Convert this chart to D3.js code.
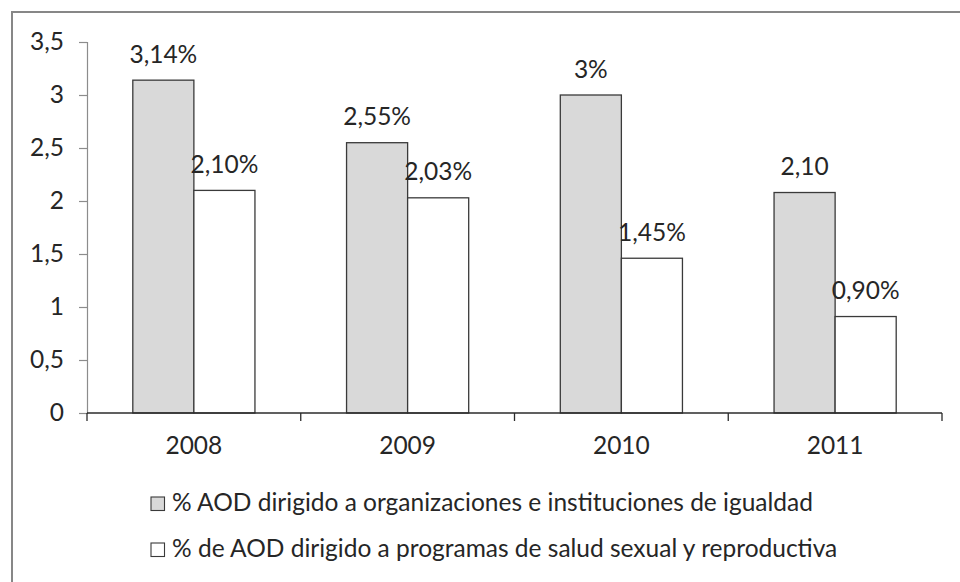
<!DOCTYPE html>
<html>
<head>
<meta charset="utf-8">
<script src="https://cdn.jsdelivr.net/npm/d3@7"></script>
<style>
  html, body { margin: 0; padding: 0; background: #fff; }
  svg { display: block; font-family: Lato, "Open Sans", sans-serif; }
</style>
</head>
<body>
<div id="chart"></div>
<script>
"use strict";
// données
const years = ["2008", "2009", "2010", "2011"];
const seriesNames = [
  "% AOD dirigido a organizaciones e instituciones de igualdad",
  "% de AOD dirigido a programas de salud sexual y reproductiva"
];
const igualdad = [3.14, 2.55, 3.0, 2.08];
const salud = [2.10, 2.03, 1.46, 0.91];
const labelsIgualdad = ["3,14%", "2,55%", "3%", "2,10"];
const labelsSalud = ["2,10%", "2,03%", "1,45%", "0,90%"];
const yTicks = [0, 0.5, 1, 1.5, 2, 2.5, 3, 3.5];
const fills = ["#d9d9d9", "#ffffff"];

const width = 960, height = 582;
const margin = {top: 42, right: 18, bottom: 169, left: 87};
const fontSize = 24.5;

const svg = d3.select("#chart").append("svg")
  .attr("width", width).attr("height", height);

// cadre du graphique (coupé à droite et en bas)
svg.append("rect")
  .attr("x", 12).attr("y", 12)
  .attr("width", width).attr("height", height)
  .attr("fill", "none").attr("stroke", "#878787").attr("stroke-width", 2);

const y = d3.scaleLinear().domain([0, 3.5]).range([height - margin.bottom, margin.top]);
const x0 = d3.scaleBand().domain(years).range([margin.left, width - margin.right]);
const bw = x0.bandwidth();
const gap = bw * 0.75 / 3.5; // gap width 150%
const x1 = d3.scaleBand().domain([0, 1]).range([gap, bw - gap]);

// axe Y
const gy = svg.append("g")
  .attr("transform", `translate(${margin.left},0)`)
  .call(d3.axisLeft(y).tickValues(yTicks).tickSize(8).tickPadding(15)
    .tickFormat(d => String(d).replace(".", ",")));
gy.select(".domain").attr("stroke", "#8c8c8c").attr("stroke-width", 1.2);
gy.selectAll(".tick line").attr("stroke", "#8c8c8c").attr("stroke-width", 1.2);
gy.selectAll(".tick text")
  .attr("font-size", fontSize).attr("font-family", "Lato").attr("fill", "#262626");

// barres
const rows = years.map((yr, i) => ({
  year: yr,
  vals: [
    {s: 0, v: igualdad[i], label: labelsIgualdad[i]},
    {s: 1, v: salud[i], label: labelsSalud[i]}
  ]
}));

const groups = svg.append("g").selectAll("g").data(rows).join("g")
  .attr("transform", d => `translate(${x0(d.year)},0)`);

groups.selectAll("rect").data(d => d.vals).join("rect")
  .attr("x", d => x1(d.s))
  .attr("y", d => y(d.v))
  .attr("width", x1.bandwidth())
  .attr("height", d => y(0) - y(d.v))
  .attr("fill", d => fills[d.s])
  .attr("stroke", "#3a3a3a").attr("stroke-width", 1.3);

groups.selectAll("text").data(d => d.vals).join("text")
  .attr("x", d => x1(d.s) + x1.bandwidth() / 2)
  .attr("y", d => y(d.v) - 17.5)
  .attr("text-anchor", "middle")
  .attr("font-size", fontSize).attr("fill", "#262626")
  .text(d => d.label);

// axe X
const gx = svg.append("g")
  .attr("transform", `translate(0,${y(0)})`);
gx.append("line")
  .attr("x1", margin.left).attr("x2", width - margin.right)
  .attr("stroke", "#2b2b2b").attr("stroke-width", 1.3);
const bounds = years.map(yr => x0(yr)).concat([x0(years[years.length - 1]) + bw]);
gx.selectAll("line.tk").data(bounds).join("line")
  .attr("class", "tk")
  .attr("x1", d => d).attr("x2", d => d)
  .attr("y1", 0).attr("y2", 8)
  .attr("stroke", "#2b2b2b").attr("stroke-width", 1.3);
gx.selectAll("text").data(years).join("text")
  .attr("x", d => x0(d) + bw / 2)
  .attr("y", 41)
  .attr("text-anchor", "middle")
  .attr("font-size", fontSize).attr("fill", "#262626")
  .text(d => d);

// légende
const legend = svg.append("g").attr("transform", "translate(151,497)");
const items = legend.selectAll("g").data(seriesNames).join("g")
  .attr("transform", (d, i) => `translate(0,${i * 46})`);
items.append("rect")
  .attr("width", 13.5).attr("height", 13.5)
  .attr("fill", (d, i) => fills[i])
  .attr("stroke", "#3a3a3a").attr("stroke-width", 1.1);
items.append("text")
  .attr("x", 21).attr("y", 14)
  .attr("font-size", fontSize).attr("fill", "#262626")
  .text(d => d);
</script>
</body>
</html>
